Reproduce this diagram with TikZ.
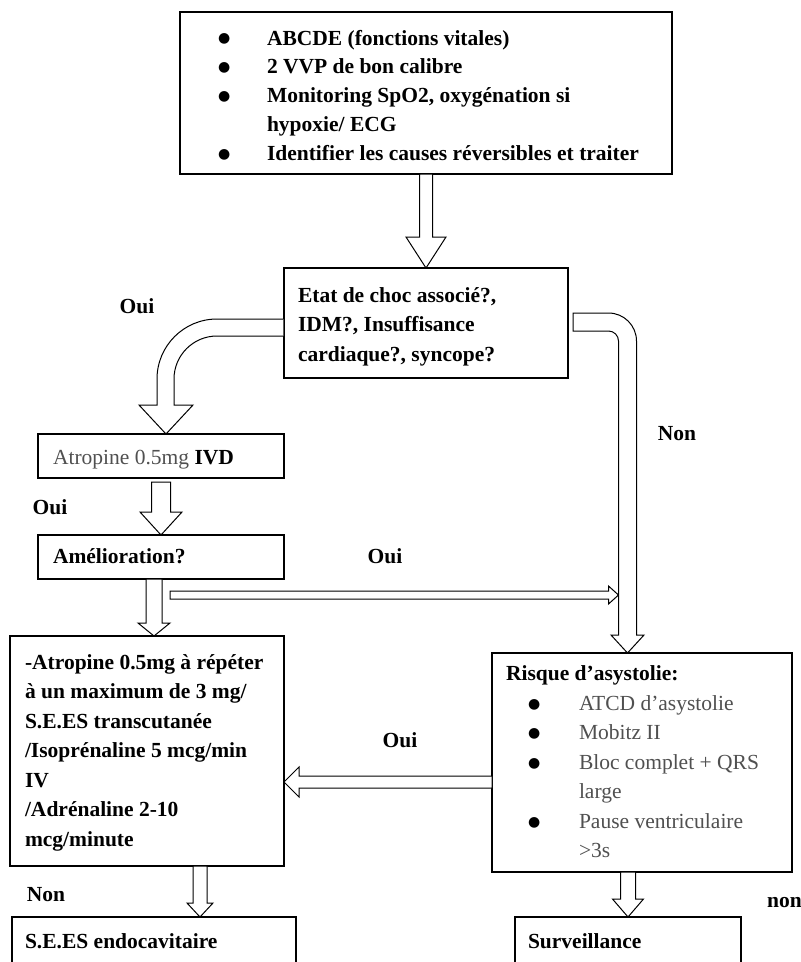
\documentclass[tikz,border=0pt]{standalone}
\usepackage{fontspec}
\setmainfont{Liberation Serif}
\newfontfamily\symfont{DejaVu Sans}
\usepackage{graphicx}
\usetikzlibrary{calc}

\definecolor{softgray}{RGB}{80,80,80}

% bullet and hanging indent for the list lines
\newcommand\bigbullet{\raisebox{2.2pt}{\symfont\fontsize{14}{14}\selectfont ●}}
\newcommand\itembul{\makebox[49pt][l]{\bigbullet}}
\newcommand\itemind{\hspace*{49pt}}
\newcommand\ritem[1]{\hspace*{22pt}\makebox[51pt][l]{\bigbullet}{\mdseries\color{softgray}#1}}
\newcommand\rcont[1]{\hspace*{73pt}{\mdseries\color{softgray}#1}}
% left-aligned block of lines of a given width, moved down by an optional amount
\newcommand\boxlines[3][0pt]{\raisebox{-#1}[\height][\depth]{\makebox[#2][l]{\begin{tabular}{@{}l@{}}#3\end{tabular}}}}

% vertical block arrow: start, tip, shaft half width, head half width, head length
\newcommand\vblock[5]{\draw[blockarrow] let \p1=#1, \p2=#2 in
  (\x2-#3,\y1) -- (\x2+#3,\y1) -- (\x2+#3,\y2+#5) -- (\x2+#4,\y2+#5) -- (\x2,\y2)
  -- (\x2-#4,\y2+#5) -- (\x2-#3,\y2+#5) -- cycle;}
% horizontal block arrow: start, tip, shaft half width, head half width, signed head length
\newcommand\hblock[5]{\draw[blockarrow] let \p1=#1, \p2=#2 in
  (\x1,\y2+#3) -- (\x2+#5,\y2+#3) -- (\x2+#5,\y2+#4) -- (\x2,\y2) -- (\x2+#5,\y2-#4)
  -- (\x2+#5,\y2-#3) -- (\x1,\y2-#3) -- cycle;}

\tikzset{
  box/.style={draw, line width=1.1pt, fill=white, anchor=north west, inner ysep=0pt,
    outer sep=0pt, font=\fontsize{21.5}{29.5}\selectfont\bfseries, text=black},
  blockarrow/.style={draw, line width=1pt, fill=white, line join=miter},
  lab/.style={font=\fontsize{21.5}{29.5}\selectfont\bfseries, inner sep=0pt}
}

\begin{document}
\begin{tikzpicture}[x=1pt,y=-1pt]
\useasboundingbox (0,0) rectangle (801,962);
\clip (0,0) rectangle (801,962);
\fill[white] (0,0) rectangle (801,962);

% boxes
\node[box, minimum width=492pt, minimum height=162pt, inner xsep=38pt,
      font=\fontsize{21.5}{28.8}\selectfont\bfseries] (top) at (180,12)
  {\boxlines[4pt]{416pt}{\itembul ABCDE (fonctions vitales)\\
   \itembul 2 VVP de bon calibre\\
   \itembul Monitoring SpO2, oxygénation si\\
   \itemind hypoxie/ ECG\\
   \itembul Identifier les causes réversibles et traiter}};

\node[box, minimum width=284pt, minimum height=110pt, inner xsep=14pt] (dec) at (284,268)
  {\boxlines[3pt]{256pt}{Etat de choc associé?,\\ IDM?, Insuffisance\\ cardiaque?, syncope?}};

\node[box, minimum width=246pt, minimum height=44pt, inner xsep=15pt] (atro) at (38,434)
  {\boxlines[3pt]{216pt}{{\mdseries\color{softgray}Atropine 0.5mg} IVD}};

\node[box, minimum width=246pt, minimum height=44pt, inner xsep=15pt] (amel) at (38,535)
  {\boxlines[1pt]{216pt}{Amélioration?}};

\node[box, minimum width=274pt, minimum height=230pt, inner xsep=15pt] (treat) at (10,636)
  {\boxlines[1pt]{244pt}{-Atropine 0.5mg à répéter\\ à un maximum de 3 mg/\\ S.E.ES transcutanée\\
   /Isoprénaline 5 mcg/min\\ IV\\ /Adrénaline 2-10\\ mcg/minute}};

\node[box, minimum width=284pt, minimum height=50pt, inner xsep=13pt] (endo) at (12,917)
  {\boxlines[1pt]{258pt}{S.E.ES endocavitaire}};

\node[box, minimum width=300pt, minimum height=219pt, inner xsep=14pt] (risk) at (492,653)
  {\boxlines[1pt]{272pt}{Risque d’asystolie:\\ \ritem{ATCD d’asystolie}\\ \ritem{Mobitz II}\\
   \ritem{Bloc complet + QRS}\\ \rcont{large}\\ \ritem{Pause ventriculaire}\\ \rcont{>3s}}};

\node[box, minimum width=226pt, minimum height=50pt, inner xsep=13pt] (surv) at (515,917)
  {\boxlines[1pt]{200pt}{Surveillance}};

% labels
\node[lab] (oui1) at (137,306) {Oui};
\node[lab] (oui2) at (50,507) {Oui};
\node[lab] (oui3) at (385,556) {Oui};
\node[lab] (non1) at (677,434) {Non};
\node[lab] (oui4) at (400,740) {Oui};
\node[lab] (non2) at (46,895) {Non};
\node[lab, anchor=west] (non3) at (767,903) {non};

% helper points
\coordinate (t3) at ($(treat.north)+(7,0)$);
\coordinate (t4) at ($(treat.south)+(53,0)$);
\coordinate (t6) at ($(risk.north)+(-14.5,0)$);
\coordinate (t7) at ($(atro.north)+(5,0)$);
\coordinate (s8) at ($(amel.south)+(9,16)$);
\coordinate (j8) at ($(t6 |- s8)+(-9,0)$);
\coordinate (s9) at ($(risk.west)+(0,19.5)$);

% straight block arrows
\vblock{(dec.north |- top.south)}{(dec.north)}{6.5pt}{20pt}{31pt}
\vblock{($(atro.south)+(0,4)$)}{(amel.north)}{9.5pt}{21pt}{23pt}
\vblock{(t3 |- amel.south)}{(t3)}{8pt}{16pt}{13pt}
\vblock{(t4)}{(t4 |- endo.north)}{7pt}{13pt}{14pt}
\vblock{(surv.north |- risk.south)}{(surv.north)}{7.5pt}{15.5pt}{18pt}
\hblock{(s8)}{(j8)}{4pt}{9pt}{-10pt}
\hblock{(s9)}{(treat.east |- s9)}{6pt}{15pt}{15pt}

% curved block arrow to the right (Non)
\draw[blockarrow] let \p1=(dec.east), \p2=(t6) in
  (\x1+5pt,\y1+10pt) -- (\x2-19pt,\y1+10pt) arc[start angle=90,end angle=0,radius=28pt]
  -- (\x2+9pt,\y2+18pt) -- (\x2+16.5pt,\y2+18pt) -- (\x2,\y2) -- (\x2-16.5pt,\y2+18pt)
  -- (\x2-9pt,\y2+18pt) -- (\x2-9pt,\y1-18pt) arc[start angle=0,end angle=90,radius=10pt]
  -- (\x1+5pt,\y1-8pt) -- cycle;

% curved block arrow to the left (Oui)
\draw[blockarrow] let \p1=(dec.west), \p2=(t7) in
  (\x1-0.6pt,\y1+4pt) -- (\x2+51pt,\y1+4pt) arc[start angle=90,end angle=180,radius=60pt]
  -- (\x2-9pt,\y2+29pt) -- (\x2-27pt,\y2+29pt) -- (\x2,\y2) -- (\x2+27pt,\y2+29pt)
  -- (\x2+8pt,\y2+29pt) -- (\x2+8pt,\y1-56pt) arc[start angle=180,end angle=90,radius=43pt]
  -- (\x1-0.6pt,\y1-13pt);
\end{tikzpicture}
\end{document}
